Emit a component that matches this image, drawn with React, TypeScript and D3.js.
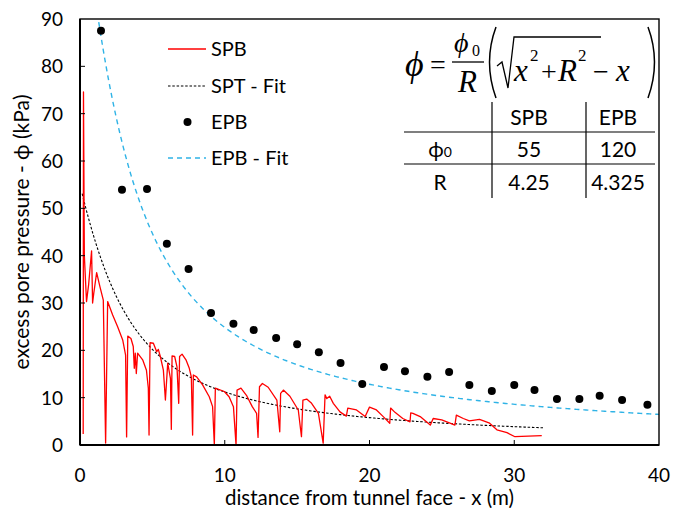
import React from "react";
import * as d3 from "d3";

const W = 674;
const H = 508;

// SPB measured (x m, phi kPa)
const spbX = [0.22, 0.24, 0.3, 0.45, 0.6, 0.8, 0.87, 0.95, 1.15, 1.38, 1.61, 1.77, 1.91, 2.25, 2.6, 2.95, 3.15, 3.22, 3.3, 3.52, 3.68, 3.75, 3.82, 3.89, 3.98, 4.33, 4.59, 4.72, 4.77, 4.84, 5.07, 5.3, 5.41, 5.55, 5.76, 5.9, 6.06, 6.25, 6.31, 6.36, 6.54, 6.7, 6.82, 6.88, 7.05, 7.32, 7.55, 7.69, 7.78, 7.83, 8.06, 8.47, 8.93, 9.16, 9.28, 9.35, 9.97, 10.3, 10.6, 10.78, 10.85, 11.12, 11.5, 11.9, 12.2, 12.3, 12.4, 12.6, 13.0, 13.6, 13.8, 13.86, 14.05, 14.5, 15.08, 15.3, 15.4, 15.66, 16.0, 16.47, 16.8, 16.93, 17.05, 17.25, 17.5, 17.96, 18.4, 18.5, 19.1, 19.7, 20.0, 20.48, 20.95, 21.4, 21.46, 21.76, 22.3, 22.8, 22.85, 23.0, 23.5, 24.2, 24.4, 24.99, 25.56, 25.9, 26.0, 26.48, 26.9, 27.6, 28.3, 28.8, 29.5, 30.05, 31.9];
const spbY = [2.3, 74.6, 40, 30.3, 34, 41.0, 30.0, 32, 36.4, 33.4, 30.6, 0.4, 30.3, 27.5, 25.0, 22.2, 19, 1.7, 23.0, 22.5, 20.8, 16.2, 19.4, 15.1, 19.4, 18.0, 15.8, 12, 2.1, 21.6, 21.5, 19.7, 20.2, 18.7, 15.8, 9.5, 17.3, 14, 3.3, 18.8, 18.7, 16.5, 8.8, 18.7, 19.2, 18.0, 16.2, 14.4, 2.1, 14.8, 14.4, 12.7, 10.2, 8.1, 0, 12.0, 11.3, 10.2, 8.1, 0, 11.6, 12.0, 10.5, 8.1, 6.7, 1.6, 12.3, 13.0, 12.2, 9.5, 2.8, 10.9, 11.6, 10.3, 7.4, 1.75, 9.5, 9.7, 8.8, 6.7, 0.4, 10.6, 9.8, 10.3, 8.8, 7.0, 6.1, 7.8, 7.4, 6.0, 8.0, 7.4, 6.0, 4.6, 7.8, 6.9, 5.6, 4.9, 6.8, 6.7, 6.0, 4.2, 5.6, 5.3, 4.6, 4.2, 6.3, 5.6, 5.1, 5.4, 4.6, 3.2, 2.6, 1.75, 2.0];

// EPB measured
const epbX = [1.45, 2.9, 4.63, 6.0, 7.5, 9.05, 10.6, 12.0, 13.55, 15.0, 16.5, 18.0, 19.5, 21.0, 22.45, 24.0, 25.5, 26.9, 28.45, 30.0, 31.4, 32.95, 34.5, 35.9, 37.45, 39.2];
const epbY = [87.5, 53.9, 54.1, 42.5, 37.2, 27.9, 25.6, 24.3, 22.6, 21.3, 19.6, 17.3, 12.9, 16.5, 15.6, 14.4, 15.4, 12.7, 11.4, 12.7, 11.6, 9.7, 9.7, 10.4, 9.5, 8.5];

// fit parameters
const fitNames = ["SPB", "EPB"];
const fitPhi0 = [55, 120];
const fitR = [4.25, 4.325];
const fitPhi0Labels = ["55", "120"];
const fitRLabels = ["4.25", "4.325"];
const spbFitRange = [0.15, 32];
const epbFitRange = [1.2, 40];

const xTicks = [0, 10, 20, 30, 40];
const yTicks = [0, 10, 20, 30, 40, 50, 60, 70, 80, 90];

const legendLabels = ["SPB", "SPT - Fit", "EPB", "EPB - Fit"];

const FONT = "Lato, 'Open Sans', sans-serif";
const SERIF = "'Liberation Serif', 'DejaVu Serif', serif";

function fitCurve(phi0: number, R: number, range: number[]) {
  const pts: [number, number][] = [];
  const n = 300;
  for (let i = 0; i <= n; i++) {
    const x = range[0] + ((range[1] - range[0]) * i) / n;
    pts.push([x, (phi0 / R) * (Math.sqrt(x * x + R * R) - x)]);
  }
  return pts;
}

export default function App() {
  const L = 80, R = 659, T = 19, B = 445;
  const x = d3.scaleLinear().domain([0, 40]).range([L, R]);
  const y = d3.scaleLinear().domain([0, 90]).range([B, T]);
  const line = d3.line<[number, number]>().x((d) => x(d[0])).y((d) => y(d[1]));

  const spbPts = spbX.map((v, i) => [v, spbY[i]] as [number, number]);
  const spbFit = fitCurve(fitPhi0[0], fitR[0], spbFitRange);
  const epbFit = fitCurve(fitPhi0[1], fitR[1], epbFitRange);

  const legY = [49, 86, 122, 158];
  const colX = [440, 529, 618];

  return (
    <svg width={W} height={H} style={{ position: "absolute", left: 0, top: 0, background: "#fff" }}>
      <defs>
        <clipPath id="plot">
          <rect x={L} y={T} width={R - L} height={B - T} />
        </clipPath>
      </defs>
      <rect x={0} y={0} width={W} height={H} fill="#fff" />

      <g clipPath="url(#plot)">
        <path d={line(epbFit) || ""} fill="none" stroke="#2fb3e6" strokeWidth={1.4} strokeDasharray="5,4" />
        <path d={line(spbFit) || ""} fill="none" stroke="#000" strokeWidth={1.1} strokeDasharray="2.5,1.8" />
        <path d={line(spbPts) || ""} fill="none" stroke="#ff0000" strokeWidth={1.3} strokeLinejoin="round" />
        {epbX.map((v, i) => (
          <circle key={i} cx={x(v)} cy={y(epbY[i])} r={4} fill="#000" />
        ))}
      </g>

      {/* frame */}
      <rect x={L} y={T} width={R - L} height={B - T} fill="none" stroke="#000" strokeWidth={1.4} />
      <line x1={L} y1={T} x2={L} y2={B} stroke="#000" strokeWidth={2} />
      <line x1={L} y1={B} x2={R} y2={B} stroke="#000" strokeWidth={2} />

      {/* ticks */}
      {yTicks.map((t) => (
        <g key={"y" + t}>
          {t > 0 && t < 90 && <line x1={L} x2={L + 5} y1={y(t)} y2={y(t)} stroke="#000" strokeWidth={1} />}
          <text x={63} y={y(t) + 7} textAnchor="end" fontFamily={FONT} fontSize={19} fill="#000">{t}</text>
        </g>
      ))}
      {xTicks.map((t) => (
        <g key={"x" + t}>
          {t > 0 && t < 40 && <line x1={x(t)} x2={x(t)} y1={B} y2={B - 5} stroke="#000" strokeWidth={1} />}
          <text x={x(t)} y={482} textAnchor="middle" fontFamily={FONT} fontSize={19} fill="#000">{t}</text>
        </g>
      ))}

      {/* axis titles */}
      <text x={(L + R) / 2} y={505} textAnchor="middle" fontFamily={FONT} fontSize={20.5} fill="#000">
        distance from tunnel face - x (m)
      </text>
      <text transform={`translate(29,${(T + B) / 2}) rotate(-90)`} textAnchor="middle" fontFamily={FONT} fontSize={21} fill="#000">
        excess pore pressure - ϕ (kPa)
      </text>

      {/* legend */}
      <line x1={168} x2={206} y1={legY[0]} y2={legY[0]} stroke="#ff0000" strokeWidth={1.3} />
      <line x1={168} x2={206} y1={legY[1]} y2={legY[1]} stroke="#000" strokeWidth={1.1} strokeDasharray="2.5,1.8" />
      <circle cx={187.5} cy={legY[2]} r={4} fill="#000" />
      <line x1={168} x2={206} y1={legY[3]} y2={legY[3]} stroke="#2fb3e6" strokeWidth={1.4} strokeDasharray="5,4" />
      {legendLabels.map((lab, i) => (
        <text key={lab} x={211} y={legY[i] + 7} fontFamily={FONT} fontSize={20} fill="#000">{lab}</text>
      ))}

      {/* formula */}
      <g fontFamily={SERIF} fill="#000">
        <text x={405} y={76} fontSize={36} fontStyle="italic">ϕ</text>
        <text x={430} y={74} fontSize={28}>=</text>
        <text x={454} y={52} fontSize={28} fontStyle="italic">ϕ</text>
        <text x={472} y={56} fontSize={16}>0</text>
        <line x1={452} x2={484} y1={62} y2={62} stroke="#000" strokeWidth={1.3} />
        <text x={458} y={92} fontSize={31} fontStyle="italic">R</text>
        <path d="M496,27 Q483,62 496,98" fill="none" stroke="#000" strokeWidth={1.5} />
        <path d="M648,27 Q661,62 648,98" fill="none" stroke="#000" strokeWidth={1.5} />
        <path d="M497,66 L502,62 L508,88 L514,37 L601,37" fill="none" stroke="#000" strokeWidth={1.3} />
        <text x={514} y={81} fontSize={31} fontStyle="italic">x</text>
        <text x={530} y={61} fontSize={17}>2</text>
        <text x={541} y={81} fontSize={28}>+</text>
        <text x={558} y={81} fontSize={31} fontStyle="italic">R</text>
        <text x={578} y={61} fontSize={17}>2</text>
        <text x={593} y={81} fontSize={28}>−</text>
        <text x={616} y={81} fontSize={31} fontStyle="italic">x</text>
      </g>

      {/* table */}
      <line x1={404} x2={655} y1={132} y2={132} stroke="#000" strokeWidth={1.2} />
      <line x1={404} x2={655} y1={164} y2={164} stroke="#000" strokeWidth={1.2} />
      <line x1={492} x2={492} y1={102} y2={198} stroke="#000" strokeWidth={1.2} />
      <line x1={586} x2={586} y1={102} y2={198} stroke="#000" strokeWidth={1.2} />
      <g fontFamily={FONT} fontSize={21} fill="#000" textAnchor="middle">
        {fitNames.map((n, i) => (
          <text key={n} x={colX[i + 1]} y={125}>{n}</text>
        ))}
        <text x={colX[0]} y={157}>ϕ<tspan fontSize={14}>0</tspan></text>
        {fitPhi0Labels.map((v, i) => (
          <text key={"p" + i} x={colX[i + 1]} y={157}>{v}</text>
        ))}
        <text x={colX[0]} y={190}>R</text>
        {fitRLabels.map((v, i) => (
          <text key={"r" + i} x={colX[i + 1]} y={190}>{v}</text>
        ))}
      </g>
    </svg>
  );
}
